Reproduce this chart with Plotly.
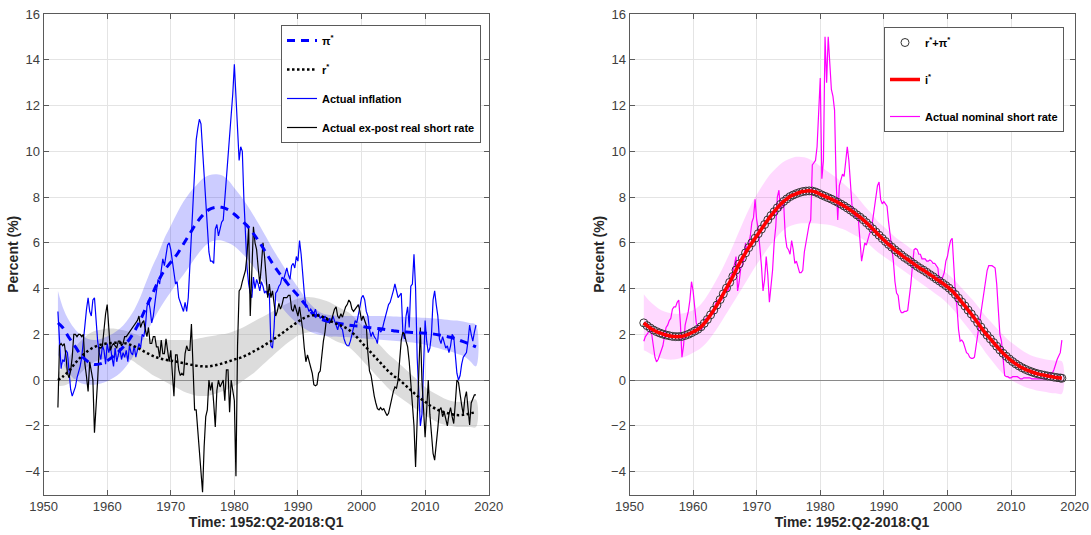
import numpy as np
import plotly.graph_objects as go

# ---------------------------------------------------------------------------
# Data
# ---------------------------------------------------------------------------
# Quarterly observations, 1952:Q2 .. 2018:Q1 (264 quarters)
quarters = 1952.25 + 0.25 * np.arange(264)

# Annual knots for the smooth trend estimates
knots = [1952.25] + list(range(1953, 2019))

# Half-yearly grid for the implied nominal trend
half_years = list(np.arange(1952.25, 2017.8, 0.5)) + [2018.0]

actual_inflation = [
    3.0, 1.6, 0.5,                    # 1952
    0.9, 0.8, 1.3, 1.2,               # 1953
    0.4, -0.4, -0.7, -0.5,            # 1954
    -0.3, 0.1, 0.3, 0.6,              # 1955
    1.0, 1.8, 2.6, 3.1,               # 1956
    3.6, 3.0, 2.8, 3.5,               # 1957
    3.6, 2.6, 1.7, 1.2,               # 1958
    0.9, 1.5, 1.3, 0.7,               # 1959
    1.6, 1.2, 1.5, 1.0,               # 1960
    0.6, 1.4, 0.8, 1.1,               # 1961
    1.4, 0.9, 1.2, 1.0,               # 1962
    1.3, 0.8, 1.5, 1.2,               # 1963
    1.1, 1.5, 1.0, 1.3,               # 1964
    1.6, 1.4, 2.0, 1.9,               # 1965
    2.3, 3.2, 3.5, 3.1,               # 1966
    2.5, 2.8, 3.5, 3.9,               # 1967
    4.4, 4.2, 4.8, 5.3,               # 1968
    5.0, 5.4, 5.9, 6.0,               # 1969
    5.7, 5.2, 4.6, 4.2,               # 1970
    4.3, 3.6, 3.4, 3.2,               # 1971
    3.0, 3.4, 3.0, 3.6,               # 1972
    5.0, 6.5, 8.0, 9.5,               # 1973
    10.5, 11.0, 11.4, 11.2,           # 1974
    10.0, 9.3, 7.6, 6.5,              # 1975
    5.6, 5.2, 5.2, 5.1,               # 1976
    6.6, 6.8, 6.3, 6.6,               # 1977
    6.9, 7.0, 7.9, 8.6,               # 1978
    9.5, 10.8, 11.5, 12.5,            # 1979
    13.8, 12.4, 11.2, 9.6,            # 1980
    10.2, 10.0, 7.9, 6.0,             # 1981
    4.9, 4.2, 3.8, 3.6,               # 1982
    4.5, 4.0, 4.4, 4.2,               # 1983
    3.9, 4.3, 4.1, 3.8,               # 1984
    3.9, 3.7, 3.8, 1.5,               # 1985
    1.4, 2.3, 3.8, 3.9,               # 1986
    4.1, 4.2, 4.5, 4.4,               # 1987
    4.6, 4.9, 4.6, 4.4,               # 1988
    5.0, 5.1, 4.9, 5.4,               # 1989
    5.2, 6.1, 5.5, 4.4,               # 1990
    3.8, 3.2, 3.2, 3.0,               # 1991
    3.1, 3.0, 2.9, 3.1,               # 1992
    2.8, 2.9, 2.7, 2.8,               # 1993
    2.6, 2.8, 2.7, 2.5,               # 1994
    2.7, 2.5, 2.8, 2.6,               # 1995
    2.4, 2.2, 2.5, 2.3,               # 1996
    2.2, 1.8, 1.6, 1.5,               # 1997
    1.5, 1.7, 2.0, 2.3,               # 1998
    2.6, 2.5, 2.8, 3.2,               # 1999
    3.6, 3.7, 3.5, 3.0,               # 2000
    2.8, 2.2, 1.9, 2.1,               # 2001
    1.9, 1.8, 1.6, 2.3,               # 2002
    2.1, 2.2, 2.5, 2.8,               # 2003
    3.0, 3.3, 3.4, 3.6,               # 2004
    3.9, 4.2, 3.9, 3.6,               # 2005
    3.7, 3.8, 2.1, 1.8,               # 2006
    2.8, 3.2, 2.3, 4.1,               # 2007
    4.2, 5.5, 4.0, 1.0,               # 2008
    -0.5, -2.0, -1.5, 0.5,            # 2009
    2.6, 1.7, 1.2, 1.4,               # 2010
    2.0, 3.5, 3.9, 3.3,               # 2011
    2.8, 1.8, 1.6, 1.9,               # 2012
    1.7, 1.4, 1.5, 1.2,               # 2013
    1.5, 2.0, 1.9, 1.2,               # 2014
    0.3, 0.0, 0.2, 0.7,               # 2015
    1.0, 1.1, 1.2, 1.7,               # 2016
    2.4, 2.0, 1.7, 2.1,               # 2017
    2.4,                              # 2018
]

actual_real_rate = [
    -1.2, 1.5, 1.6,                   # 1952
    1.5, 1.6, 1.1, 0.3,               # 1953
    0.1, 0.4, 1.0, 2.0,               # 1954
    2.0, 1.9, 2.0, 2.0,               # 1955
    1.9, 2.0, 0.7, 0.15,              # 1956
    -0.5, 0.8, 0.4, 0.0,              # 1957
    -2.3, -0.8, 0.0, 1.45,            # 1958
    1.4, 1.5, 2.4, 2.9,               # 1959
    3.3, 2.0, 1.3, 1.5,               # 1960
    1.6, 1.5, 1.4, 1.7,               # 1961
    1.7, 1.5, 1.6, 1.9,               # 1962
    1.9, 2.0, 2.1, 2.2,               # 1963
    2.3, 2.4, 2.55, 2.6,              # 1964
    2.8, 2.3, 2.5, 2.6,               # 1965
    2.2, 1.9, 2.3, 1.6,               # 1966
    1.6, 1.9, 1.9, 1.45,              # 1967
    1.45, 1.0, 1.75, 1.16,            # 1968
    1.16, 1.8, 1.3, 0.8,              # 1969
    1.3, 0.15, -0.7, 1.1,             # 1970
    1.1, 0.45, 0.2, 0.3,              # 1971
    0.2, 1.16, 1.5, 1.3,              # 1972
    1.3, 2.45, 0.6, -1.3,             # 1973
    -1.3, -2.3, -3.35, -4.0,          # 1974
    -4.9, -2.9, -1.6, -1.3,           # 1975
    0.0, -0.45, -0.1, -1.0,           # 1976
    -2.05, -0.45, 0.0, -0.3,          # 1977
    -0.15, 0.0, -0.9, 0.45,           # 1978
    0.45, -1.4, 0.0, -0.5,            # 1979
    -0.9, -4.2, 1.5, 3.9,             # 1980
    4.0, 4.3, 4.6, 4.8,               # 1981
    5.5, 6.7, 2.8, 4.5,               # 1982
    6.7, 6.0, 5.7, 4.9,               # 1983
    4.2, 5.0, 6.0, 5.4,               # 1984
    4.4, 3.6, 4.2, 3.6,               # 1985
    3.9, 3.4, 2.8, 3.0,               # 1986
    3.35, 3.1, 3.3, 3.6,              # 1987
    3.6, 3.6, 3.7, 3.7,               # 1988
    3.1, 3.0, 3.3, 3.05,              # 1989
    2.8, 3.2, 2.7, 2.2,               # 1990
    1.4, 0.8, 1.1, 0.8,               # 1991
    0.5, 0.3, -0.2, -0.25,            # 1992
    -0.2, 0.3, 0.4, 1.1,              # 1993
    1.7, 2.1, 2.75, 2.6,              # 1994
    2.5, 2.6, 2.9, 3.1,               # 1995
    3.2, 2.8, 2.7, 2.9,               # 1996
    2.75, 3.0, 3.2, 3.3,              # 1997
    3.5, 3.4, 3.1, 3.0,               # 1998
    3.1, 3.2, 3.3, 3.0,               # 1999
    2.6, 2.8, 2.6, 2.4,               # 2000
    1.2, 0.4, 0.2, -0.3,              # 2001
    -0.7, -1.0, -1.25, -1.3,          # 2002
    -1.2, -1.3, -1.25, -1.4,          # 2003
    -1.55, -1.45, -1.1, -0.7,         # 2004
    -0.5, -0.3, -0.35, 0.0,           # 2005
    0.8, 1.75, 2.1, 2.0,              # 2006
    1.7, 1.45, 0.8, -0.3,             # 2007
    -1.2, -2.0, -3.8, -1.8,           # 2008
    0.8, 2.3, 0.0, -1.5,              # 2009
    -2.5, -1.3, 0.0, -1.5,            # 2010
    -2.2, -3.2, -3.5, -2.9,           # 2011
    -2.1, -1.3, -1.2, -1.6,           # 2012
    -1.4, -1.7, -2.0, -1.5,           # 2013
    -1.2, -1.6, -1.9, -1.0,           # 2014
    0.0, -0.1, -0.7, -1.1,            # 2015
    -1.5, -0.8, -0.5, -1.2,           # 2016
    -1.96, -1.0, -0.8, -0.65,         # 2017
    -0.65,                            # 2018
]

actual_nominal_rate = [
    1.7, 1.9, 2.0,                    # 1952
    2.1, 2.2, 2.0, 1.5,               # 1953
    1.0, 0.8, 0.9, 1.1,               # 1954
    1.3, 1.5, 1.9, 2.3,               # 1955
    2.4, 2.6, 2.7, 3.1,               # 1956
    3.2, 3.2, 3.4, 3.5,               # 1957
    2.5, 1.0, 1.5, 2.4,               # 1958
    2.7, 3.0, 3.5, 4.3,               # 1959
    3.9, 3.2, 2.5, 2.3,               # 1960
    2.3, 2.2, 2.3, 2.5,               # 1961
    2.7, 2.7, 2.8, 2.8,               # 1962
    2.9, 2.9, 3.3, 3.5,               # 1963
    3.5, 3.5, 3.5, 3.7,               # 1964
    3.9, 3.9, 3.9, 4.2,               # 1965
    4.6, 4.7, 5.0, 5.4,               # 1966
    3.9, 4.3, 4.9, 5.0,               # 1967
    5.3, 6.0, 5.6, 5.9,               # 1968
    6.3, 6.9, 7.1, 7.9,               # 1969
    7.0, 6.6, 5.9, 5.0,               # 1970
    3.9, 4.4, 5.4, 4.6,               # 1971
    3.4, 4.2, 4.8, 6.0,               # 1972
    6.7, 8.0, 8.3, 7.4,               # 1973
    7.6, 7.7, 6.3, 5.8,               # 1974
    5.7, 5.5, 6.1, 5.7,               # 1975
    5.1, 5.2, 5.0, 4.7,               # 1976
    4.7, 4.8, 5.6, 6.0,               # 1977
    6.5, 6.8, 7.0, 9.4,               # 1978
    9.5, 9.6, 10.2, 11.8,             # 1979
    13.2, 8.8, 9.6, 15.0,             # 1980
    13.0, 15.0, 14.0, 12.7,           # 1981
    12.4, 11.8, 8.7, 7.0,             # 1982
    8.5, 8.7, 9.0, 8.9,               # 1983
    9.5, 10.2, 9.6, 8.6,              # 1984
    7.6, 7.3, 7.1, 7.3,               # 1985
    7.0, 6.1, 5.2, 5.6,               # 1986
    6.0, 5.9, 6.1, 6.4,               # 1987
    6.5, 7.0, 7.3, 8.0,               # 1988
    8.5, 8.66, 7.9, 7.7,              # 1989
    7.8, 7.7, 7.6, 6.9,               # 1990
    6.3, 5.8, 5.2, 4.3,               # 1991
    3.8, 3.7, 3.1, 2.95,              # 1992
    2.95, 3.0, 3.0, 3.05,             # 1993
    3.6, 4.2, 5.0, 5.7,               # 1994
    5.75, 5.7, 5.5, 5.5,              # 1995
    5.3, 5.3, 5.3, 5.2,               # 1996
    5.2, 5.25, 5.2, 5.1,              # 1997
    5.1, 5.0, 4.9, 4.2,               # 1998
    4.4, 4.5, 4.7, 5.2,               # 1999
    5.4, 5.8, 6.1, 6.2,               # 2000
    4.8, 3.8, 3.2, 2.2,               # 2001
    1.7, 1.75, 1.65, 1.4,             # 2002
    1.2, 1.15, 1.0, 0.95,             # 2003
    0.95, 1.0, 1.5, 1.9,              # 2004
    2.4, 2.9, 3.4, 3.9,               # 2005
    4.4, 4.8, 5.0, 5.0,               # 2006
    5.0, 4.95, 4.9, 4.2,              # 2007
    3.1, 2.0, 1.7, 0.9,               # 2008
    0.2, 0.15, 0.15, 0.1,             # 2009
    0.1, 0.15, 0.15, 0.15,            # 2010
    0.15, 0.1, 0.05, 0.05,            # 2011
    0.1, 0.1, 0.1, 0.1,               # 2012
    0.1, 0.05, 0.05, 0.05,            # 2013
    0.05, 0.05, 0.05, 0.05,           # 2014
    0.05, 0.05, 0.05, 0.1,            # 2015
    0.3, 0.3, 0.3, 0.45,              # 2016
    0.7, 0.9, 1.05, 1.2,              # 2017
    1.75,                             # 2018
]

# Trend inflation pi* and its band (annual knots)
pi_star = [
    2.5, 2.3, 1.85, 1.45, 1.05, 0.8, 0.68, 0.72, 0.85, 1.05,
    1.3, 1.6, 2.0, 2.5, 3.1, 3.7, 4.3, 4.8, 5.15, 5.5,
    5.95, 6.4, 6.85, 7.2, 7.45, 7.55, 7.55, 7.45, 7.25, 7.0,
    6.75, 6.4, 6.0, 5.55, 5.1, 4.7, 4.35, 4.0, 3.7, 3.35,
    3.0, 2.75, 2.62, 2.55, 2.5, 2.45, 2.4, 2.37, 2.35, 2.3,
    2.27, 2.24, 2.2, 2.16, 2.12, 2.1, 2.08, 2.06, 2.05, 2.03,
    1.98, 1.93, 1.87, 1.78, 1.68, 1.57, 1.45,
]
pi_star_upper = [
    3.9, 3.2, 2.6, 2.2, 1.95, 1.8, 1.75, 1.8, 1.9, 2.05,
    2.25, 2.55, 2.95, 3.5, 4.2, 4.9, 5.5, 6.2, 6.75, 7.3,
    7.8, 8.2, 8.5, 8.8, 8.95, 9.0, 8.95, 8.75, 8.4, 8.05,
    7.65, 7.2, 6.75, 6.25, 5.75, 5.3, 4.85, 4.45, 4.05, 3.65,
    3.3, 3.05, 2.9, 2.85, 2.82, 2.8, 2.8, 2.8, 2.8, 2.8,
    2.8, 2.8, 2.79, 2.78, 2.77, 2.76, 2.75, 2.74, 2.72, 2.7,
    2.68, 2.65, 2.62, 2.6, 2.56, 2.5, 2.42,
]
pi_star_lower = [
    1.1, 0.75, 0.3, 0.0, -0.15, -0.2, -0.2, -0.15, -0.05, 0.1,
    0.3, 0.6, 1.0, 1.45, 1.95, 2.5, 3.0, 3.45, 3.85, 4.25,
    4.6, 5.0, 5.4, 5.75, 6.0, 6.1, 6.1, 6.0, 5.85, 5.6,
    5.3, 4.95, 4.55, 4.1, 3.7, 3.35, 3.0, 2.7, 2.45, 2.25,
    2.1, 2.0, 1.95, 1.9, 1.9, 1.88, 1.87, 1.85, 1.83, 1.8,
    1.78, 1.76, 1.74, 1.72, 1.7, 1.67, 1.64, 1.6, 1.55, 1.48,
    1.4, 1.32, 1.25, 1.15, 1.05, 0.85, 0.6,
]

# Natural real rate r* and its band (annual knots)
r_star = [
    0.0, 0.15, 0.4, 0.75, 1.05, 1.28, 1.45, 1.55, 1.6, 1.63,
    1.63, 1.6, 1.5, 1.38, 1.22, 1.08, 0.97, 0.9, 0.85, 0.8,
    0.74, 0.68, 0.63, 0.6, 0.6, 0.65, 0.72, 0.8, 0.9, 0.98,
    1.1, 1.25, 1.4, 1.57, 1.75, 1.95, 2.15, 2.35, 2.55, 2.72,
    2.82, 2.83, 2.75, 2.6, 2.47, 2.35, 2.2, 1.95, 1.65, 1.35,
    1.05, 0.75, 0.45, 0.2, 0.0, -0.25, -0.5, -0.75, -0.95, -1.15,
    -1.3, -1.4, -1.48, -1.53, -1.52, -1.46, -1.4,
]
r_star_upper = [
    0.25, 0.6, 1.0, 1.45, 1.75, 2.0, 2.15, 2.2, 2.25, 2.25,
    2.2, 2.15, 2.05, 1.95, 1.85, 1.8, 1.75, 1.75, 1.75, 1.75,
    1.75, 1.75, 1.8, 1.85, 1.9, 1.95, 2.0, 2.05, 2.15, 2.25,
    2.4, 2.55, 2.7, 2.85, 3.0, 3.15, 3.3, 3.45, 3.55, 3.62,
    3.62, 3.58, 3.5, 3.4, 3.25, 3.1, 2.95, 2.7, 2.4, 2.1,
    1.8, 1.5, 1.2, 0.95, 0.7, 0.45, 0.2, -0.05, -0.3, -0.5,
    -0.65, -0.8, -0.9, -0.95, -0.95, -0.9, -0.85,
]
r_star_lower = [
    -0.25, -0.25, -0.15, 0.05, 0.35, 0.6, 0.8, 0.9, 0.95, 1.0,
    1.0, 0.95, 0.85, 0.65, 0.45, 0.25, 0.1, -0.05, -0.2, -0.35,
    -0.5, -0.6, -0.68, -0.7, -0.68, -0.6, -0.5, -0.4, -0.25, -0.1,
    0.1, 0.3, 0.55, 0.8, 1.05, 1.3, 1.55, 1.75, 1.95, 2.05,
    2.1, 2.1, 2.0, 1.85, 1.7, 1.6, 1.45, 1.2, 0.9, 0.6,
    0.3, 0.0, -0.3, -0.55, -0.75, -0.95, -1.15, -1.35, -1.55, -1.7,
    -1.85, -1.95, -2.0, -2.05, -2.05, -2.05, -2.05,
]

# Trend nominal rate i* (= r* + pi*), half-yearly
i_star = [
    2.50, 2.38, 2.28, 2.19, 2.12, 2.06, 2.01, 1.97, 1.94, 1.91,   # 1952-56
    1.90, 1.90, 1.91, 1.95, 2.00, 2.07, 2.14, 2.22, 2.33, 2.48,   # 1957-61
    2.65, 2.85, 3.06, 3.28, 3.52, 3.77, 4.02, 4.27, 4.53, 4.81,   # 1962-66
    5.08, 5.33, 5.56, 5.79, 6.00, 6.20, 6.40, 6.60, 6.80, 7.00,   # 1967-71
    7.19, 7.36, 7.53, 7.68, 7.81, 7.92, 8.02, 8.09, 8.15, 8.20,   # 1972-76
    8.24, 8.26, 8.27, 8.26, 8.22, 8.16, 8.09, 8.03, 7.97, 7.91,   # 1977-81
    7.84, 7.77, 7.69, 7.61, 7.52, 7.43, 7.33, 7.22, 7.12, 7.01,   # 1982-86
    6.88, 6.75, 6.61, 6.47, 6.33, 6.19, 6.06, 5.93, 5.81, 5.69,   # 1987-91
    5.58, 5.47, 5.36, 5.27, 5.17, 5.07, 4.97, 4.88, 4.80, 4.71,   # 1992-96
    4.61, 4.52, 4.42, 4.33, 4.23, 4.13, 4.02, 3.89, 3.74, 3.58,   # 1997-01
    3.41, 3.24, 3.06, 2.89, 2.70, 2.51, 2.32, 2.13, 1.96, 1.80,   # 2002-06
    1.64, 1.48, 1.32, 1.17, 1.04, 0.92, 0.81, 0.71, 0.62, 0.54,   # 2007-11
    0.47, 0.41, 0.36, 0.31, 0.27, 0.24, 0.21, 0.18, 0.16, 0.13,   # 2012-16
    0.11, 0.09, 0.08,                                             # 2017-18
]

# Band around i* (annual knots)
i_star_upper = [
    3.75, 3.5, 3.25, 3.05, 2.95, 2.9, 2.9, 2.95, 3.05, 3.25,
    3.6, 4.05, 4.55, 5.1, 5.7, 6.35, 7.0, 7.6, 8.1, 8.55,
    8.95, 9.25, 9.5, 9.65, 9.75, 9.75, 9.7, 9.55, 9.35, 9.15,
    8.95, 8.75, 8.5, 8.25, 7.95, 7.6, 7.3, 6.95, 6.7, 6.45,
    6.2, 6.0, 5.8, 5.6, 5.4, 5.2, 5.0, 4.85, 4.65, 4.4,
    4.1, 3.8, 3.5, 3.15, 2.8, 2.5, 2.2, 1.9, 1.65, 1.45,
    1.25, 1.1, 1.0, 0.93, 0.88, 0.85, 0.82,
]
i_star_lower = [
    1.3, 1.2, 1.05, 0.95, 0.9, 0.9, 0.95, 1.05, 1.2, 1.35,
    1.6, 1.95, 2.35, 2.8, 3.25, 3.7, 4.15, 4.6, 5.05, 5.45,
    5.85, 6.2, 6.5, 6.7, 6.8, 6.85, 6.85, 6.85, 6.82, 6.8,
    6.75, 6.65, 6.55, 6.4, 6.25, 6.1, 5.85, 5.6, 5.4, 5.2,
    5.0, 4.8, 4.6, 4.4, 4.2, 4.0, 3.8, 3.6, 3.35, 3.05,
    2.7, 2.35, 2.0, 1.6, 1.2, 0.85, 0.5, 0.2, 0.0, -0.15,
    -0.28, -0.38, -0.45, -0.5, -0.55, -0.58, -0.6,
]

x_ticks = [1950, 1960, 1970, 1980, 1990, 2000, 2010, 2020]
y_ticks = [-4, -2, 0, 2, 4, 6, 8, 10, 12, 14, 16]

# ---------------------------------------------------------------------------
# Figure
# ---------------------------------------------------------------------------
FONT = "Liberation Sans, Arial, Helvetica, sans-serif"
fig = go.Figure()


def band(x, upper, lower, color, xa, ya):
    xs = list(x) + list(x)[::-1]
    ys = list(upper) + list(lower)[::-1]
    return go.Scatter(x=xs, y=ys, fill="toself", fillcolor=color,
                      line=dict(width=0, shape="spline"), mode="lines",
                      hoverinfo="skip", showlegend=False, xaxis=xa, yaxis=ya)


# --- left panel ---
fig.add_trace(band(knots, r_star_upper, r_star_lower, "rgba(150,150,150,0.33)", "x", "y"))
fig.add_trace(band(knots, pi_star_upper, pi_star_lower, "rgba(0,0,255,0.2)", "x", "y"))

fig.add_trace(go.Scatter(
    x=quarters, y=actual_inflation, mode="lines", name="Actual inflation",
    line=dict(color="#0000ff", width=1.2), legend="legend", legendrank=3,
    legendgroup="infl", xaxis="x", yaxis="y"))
fig.add_trace(go.Scatter(
    x=quarters, y=actual_real_rate, mode="lines", name="Actual ex-post real short rate",
    line=dict(color="#000000", width=1.2), legend="legend", legendrank=4,
    legendgroup="real", xaxis="x", yaxis="y"))
fig.add_trace(go.Scatter(
    x=knots, y=pi_star, mode="lines", name="π<sup>*</sup>",
    line=dict(color="#0000ff", width=3, dash="8px,6px", shape="spline"),
    legend="legend", legendrank=1, legendgroup="pi", xaxis="x", yaxis="y"))
fig.add_trace(go.Scatter(
    x=knots, y=r_star, mode="lines", name="r<sup>*</sup>",
    line=dict(color="#000000", width=2.5, dash="2.5px,2.5px", shape="spline"),
    legend="legend", legendrank=2, legendgroup="r", xaxis="x", yaxis="y"))

# --- right panel ---
fig.add_trace(band(knots, i_star_upper, i_star_lower, "rgba(255,0,255,0.15)", "x2", "y2"))
fig.add_trace(go.Scatter(
    x=quarters, y=actual_nominal_rate, mode="lines", name="Actual nominal short rate",
    line=dict(color="#ff00ff", width=1.2), legend="legend2", legendrank=3,
    legendgroup="nom", xaxis="x2", yaxis="y2"))
fig.add_trace(go.Scatter(
    x=half_years, y=i_star, mode="markers", name="r<sup>*</sup>+π<sup>*</sup>",
    marker=dict(symbol="circle-open", size=8, color="#333333", line=dict(width=1)),
    legend="legend2", legendrank=1, legendgroup="sum", xaxis="x2", yaxis="y2"))
fig.add_trace(go.Scatter(
    x=half_years, y=i_star, mode="lines", name="i<sup>*</sup>",
    line=dict(color="#ff0000", width=3.5, shape="spline"),
    legend="legend2", legendrank=2, legendgroup="istar", xaxis="x2", yaxis="y2"))

axis_common = dict(
    showline=True, linecolor="#5a5a5a", linewidth=1, mirror="ticks",
    ticks="inside", ticklen=5, tickwidth=1, tickcolor="#5a5a5a",
    showgrid=True, gridcolor="#e4e4e4", gridwidth=1, automargin=False,
    tickfont=dict(family=FONT, size=13, color="#404040"),
)
x_common = dict(axis_common, range=[1950, 2020], tickvals=x_ticks, zeroline=False,
                title=dict(text="Time: 1952:Q2-2018:Q1", standoff=4,
                           font=dict(family=FONT, size=14, color="#262626", weight="bold")))
y_common = dict(axis_common, range=[-5, 16], tickvals=y_ticks,
                zeroline=True, zerolinecolor="#8a8a8a", zerolinewidth=1,
                title=dict(text="Percent (%)", standoff=3,
                           font=dict(family=FONT, size=14, color="#262626", weight="bold")))

y_dom = [1 - 494.5 / 535, 1 - 14 / 535]
legend_common = dict(
    bgcolor="white", bordercolor="#5a5a5a", borderwidth=1,
    font=dict(family=FONT, size=11, color="#000000", weight="bold"),
    yanchor="top", xanchor="right", traceorder="grouped",
)

fig.update_layout(
    width=1091, height=535,
    margin=dict(l=0, r=0, t=0, b=0, autoexpand=False),
    paper_bgcolor="white", plot_bgcolor="white",
    font=dict(family=FONT),
    xaxis=dict(x_common, domain=[43.6 / 1091, 488.7 / 1091], anchor="y"),
    yaxis=dict(y_common, domain=y_dom, anchor="x"),
    xaxis2=dict(x_common, domain=[629.5 / 1091, 1074.6 / 1091], anchor="y2"),
    yaxis2=dict(y_common, domain=y_dom, anchor="x2"),
    legend=dict(legend_common, x=481 / 1091, y=1 - 25 / 535, tracegroupgap=10),
    legend2=dict(legend_common, x=1064 / 1091, y=1 - 27 / 535, tracegroupgap=18),
)

fig.write_html("out.html")
